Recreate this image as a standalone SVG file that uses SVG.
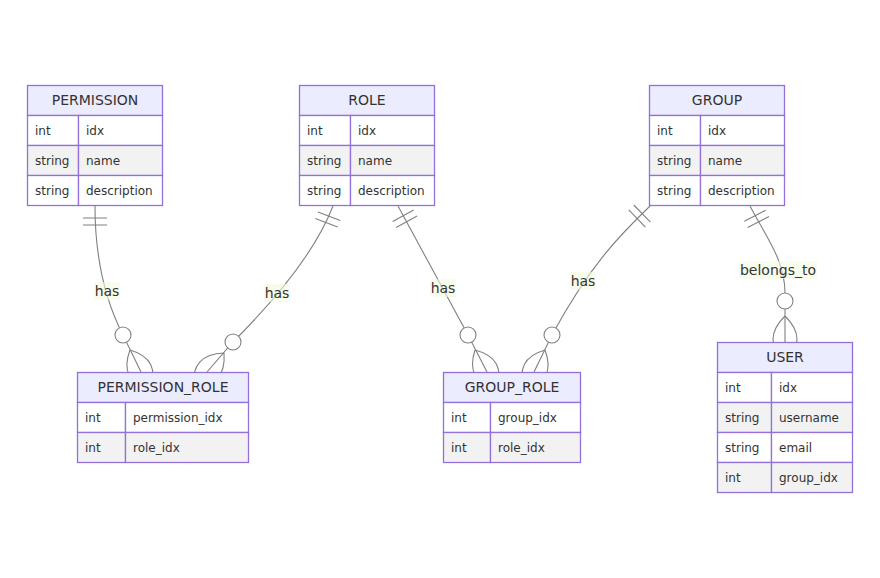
<svg xmlns="http://www.w3.org/2000/svg" width="880" height="578" viewBox="0 0 880 578">
<style>
.ln{fill:none;stroke:#808080;stroke-width:1.1}
.cir{fill:#fff;stroke:#808080;stroke-width:1.1}
.hd{fill:#ECECFF;stroke:#9370DB;stroke-width:1.3}
.r1{fill:#ffffff;stroke:#9370DB;stroke-width:1.3}
.r2{fill:#f2f2f2;stroke:#9370DB;stroke-width:1.3}
.ht{font-family:"DejaVu Sans",Verdana,sans-serif;font-size:14px;fill:#333;text-anchor:middle;dominant-baseline:central}
.at{font-family:"DejaVu Sans",Verdana,sans-serif;font-size:12px;fill:#333;dominant-baseline:central}
.lb{fill:#f4fae0;opacity:0.6}
.lt{font-family:"DejaVu Sans",Verdana,sans-serif;font-size:14px;fill:#333;text-anchor:middle;dominant-baseline:central}
</style>
<rect width="880" height="578" fill="#fff"/>
<g id="connectors">
  <path class="ln" d="M95,206 C95,260 105,300 123,335 L141,372"/>
  <path class="ln" d="M83,218 L107,218 M83,225 L107,225"/>
  <path class="ln" d="M130,350 Q118.4,380.5 149.8,389.6 M130,350 Q161.4,359.1 149.8,389.6"/>
  <circle class="cir" cx="123" cy="335" r="8"/>
  <path class="ln" d="M333,206 C318,245 285,290 233,342 L207,372"/>
  <path class="ln" d="M317.9,212 L340.3,220.6 M315.3,218.5 L337.7,227.1"/>
  <path class="ln" d="M224,353 Q226.6,386.1 193.4,387.2 M224,353 Q190.8,354.1 193.4,387.2"/>
  <circle class="cir" cx="233" cy="342" r="8"/>
  <path class="ln" d="M398,206 L468,335 L487,372"/>
  <path class="ln" d="M392.7,221.4 L413.7,210 M396.1,227.5 L417.1,216.1"/>
  <path class="ln" d="M475,350 Q464.7,381.3 496.6,389.6 M475,350 Q506.9,358.3 496.6,389.6"/>
  <circle class="cir" cx="468" cy="335" r="8"/>
  <path class="ln" d="M650,206 C620,235 590,265 552,335 L534,372"/>
  <path class="ln" d="M633.8,205 L650.4,222.2 M628.8,209.9 L645.4,227.1"/>
  <path class="ln" d="M545,350 Q556.6,380.5 525.2,389.6 M545,350 Q513.6,359.1 525.2,389.6"/>
  <circle class="cir" cx="552" cy="335" r="8"/>
  <path class="ln" d="M750,206 C765,235 785,260 785,293 L785,342"/>
  <path class="ln" d="M744.3,221.3 L765.7,210.3 M747.6,227.5 L769,216.5"/>
  <path class="ln" d="M785,316 Q809,339.4 785,362.8 M785,316 Q761,339.4 785,362.8"/>
  <circle class="cir" cx="785" cy="301" r="8"/>
  <rect class="lb" x="94" y="282" width="26" height="18"/>
  <text class="lt" x="107" y="291">has</text>
  <rect class="lb" x="264" y="284" width="26" height="18"/>
  <text class="lt" x="277" y="293">has</text>
  <rect class="lb" x="430" y="279" width="26" height="18"/>
  <text class="lt" x="443" y="288">has</text>
  <rect class="lb" x="570" y="272" width="26" height="18"/>
  <text class="lt" x="583" y="281">has</text>
  <rect class="lb" x="739" y="261" width="78" height="18"/>
  <text class="lt" x="778" y="270">belongs_to</text>
</g>
<g id="PERMISSION">
  <rect class="hd" x="27.5" y="85.5" width="135" height="30"/>
  <text class="ht" x="95" y="100">PERMISSION</text>
  <rect class="r1" x="27.5" y="115.5" width="51" height="30"/><rect class="r1" x="78.5" y="115.5" width="84" height="30"/>
  <rect class="r2" x="27.5" y="145.5" width="51" height="30"/><rect class="r2" x="78.5" y="145.5" width="84" height="30"/>
  <rect class="r1" x="27.5" y="175.5" width="51" height="30"/><rect class="r1" x="78.5" y="175.5" width="84" height="30"/>
  <text class="at" x="35" y="130.5">int</text><text class="at" x="86" y="130.5">idx</text>
  <text class="at" x="35" y="160.5">string</text><text class="at" x="86" y="160.5">name</text>
  <text class="at" x="35" y="190.5">string</text><text class="at" x="86" y="190.5">description</text>
</g>
<g id="ROLE">
  <rect class="hd" x="299.5" y="85.5" width="135" height="30"/>
  <text class="ht" x="367" y="100">ROLE</text>
  <rect class="r1" x="299.5" y="115.5" width="51" height="30"/><rect class="r1" x="350.5" y="115.5" width="84" height="30"/>
  <rect class="r2" x="299.5" y="145.5" width="51" height="30"/><rect class="r2" x="350.5" y="145.5" width="84" height="30"/>
  <rect class="r1" x="299.5" y="175.5" width="51" height="30"/><rect class="r1" x="350.5" y="175.5" width="84" height="30"/>
  <text class="at" x="307" y="130.5">int</text><text class="at" x="358" y="130.5">idx</text>
  <text class="at" x="307" y="160.5">string</text><text class="at" x="358" y="160.5">name</text>
  <text class="at" x="307" y="190.5">string</text><text class="at" x="358" y="190.5">description</text>
</g>
<g id="GROUP">
  <rect class="hd" x="649.5" y="85.5" width="135" height="30"/>
  <text class="ht" x="717" y="100">GROUP</text>
  <rect class="r1" x="649.5" y="115.5" width="51" height="30"/><rect class="r1" x="700.5" y="115.5" width="84" height="30"/>
  <rect class="r2" x="649.5" y="145.5" width="51" height="30"/><rect class="r2" x="700.5" y="145.5" width="84" height="30"/>
  <rect class="r1" x="649.5" y="175.5" width="51" height="30"/><rect class="r1" x="700.5" y="175.5" width="84" height="30"/>
  <text class="at" x="657" y="130.5">int</text><text class="at" x="708" y="130.5">idx</text>
  <text class="at" x="657" y="160.5">string</text><text class="at" x="708" y="160.5">name</text>
  <text class="at" x="657" y="190.5">string</text><text class="at" x="708" y="190.5">description</text>
</g>
<g id="PERMISSION_ROLE">
  <rect class="hd" x="77.5" y="372.5" width="171" height="30"/>
  <text class="ht" x="163" y="387">PERMISSION_ROLE</text>
  <rect class="r1" x="77.5" y="402.5" width="48" height="30"/><rect class="r1" x="125.5" y="402.5" width="123" height="30"/>
  <rect class="r2" x="77.5" y="432.5" width="48" height="30"/><rect class="r2" x="125.5" y="432.5" width="123" height="30"/>
  <text class="at" x="85" y="417.5">int</text><text class="at" x="133" y="417.5">permission_idx</text>
  <text class="at" x="85" y="447.5">int</text><text class="at" x="133" y="447.5">role_idx</text>
</g>
<g id="GROUP_ROLE">
  <rect class="hd" x="443.5" y="372.5" width="137" height="30"/>
  <text class="ht" x="512" y="387">GROUP_ROLE</text>
  <rect class="r1" x="443.5" y="402.5" width="47" height="30"/><rect class="r1" x="490.5" y="402.5" width="90" height="30"/>
  <rect class="r2" x="443.5" y="432.5" width="47" height="30"/><rect class="r2" x="490.5" y="432.5" width="90" height="30"/>
  <text class="at" x="451" y="417.5">int</text><text class="at" x="498" y="417.5">group_idx</text>
  <text class="at" x="451" y="447.5">int</text><text class="at" x="498" y="447.5">role_idx</text>
</g>
<g id="USER">
  <rect class="hd" x="717.5" y="342.5" width="135" height="30"/>
  <text class="ht" x="785" y="357">USER</text>
  <rect class="r1" x="717.5" y="372.5" width="54" height="30"/><rect class="r1" x="771.5" y="372.5" width="81" height="30"/>
  <rect class="r2" x="717.5" y="402.5" width="54" height="30"/><rect class="r2" x="771.5" y="402.5" width="81" height="30"/>
  <rect class="r1" x="717.5" y="432.5" width="54" height="30"/><rect class="r1" x="771.5" y="432.5" width="81" height="30"/>
  <rect class="r2" x="717.5" y="462.5" width="54" height="30"/><rect class="r2" x="771.5" y="462.5" width="81" height="30"/>
  <text class="at" x="725" y="387.5">int</text><text class="at" x="779" y="387.5">idx</text>
  <text class="at" x="725" y="417.5">string</text><text class="at" x="779" y="417.5">username</text>
  <text class="at" x="725" y="447.5">string</text><text class="at" x="779" y="447.5">email</text>
  <text class="at" x="725" y="477.5">int</text><text class="at" x="779" y="477.5">group_idx</text>
</g>
</svg>
